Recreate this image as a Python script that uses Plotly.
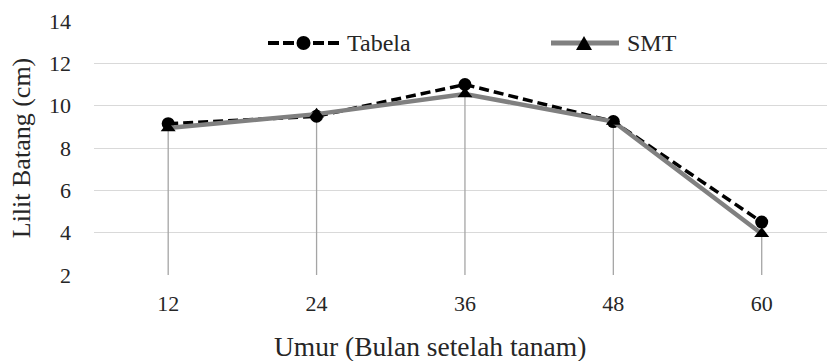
import plotly.graph_objects as go

categories = ["12", "24", "36", "48", "60"]
tabela = [9.15, 9.5, 11.0, 9.25, 4.5]
smt = [8.95, 9.6, 10.55, 9.25, 3.95]
y_ticks = [2, 4, 6, 8, 10, 12, 14]
series_names = ["Tabela", "SMT"]
x_title = "Umur (Bulan setelah tanam)"
y_title = "Lilit Batang (cm)"

FONT = "Liberation Serif"
TXT = "#262626"
DASH = "10px,5px"
GRAY = "#808080"

# drop lines from the higher point down to the axis floor
drop_x, drop_y = [], []
for c, a, b in zip(categories, tabela, smt):
    drop_x += [c, c, None]
    drop_y += [y_ticks[0], max(a, b), None]

fig = go.Figure()
fig.add_trace(go.Scatter(x=drop_x, y=drop_y, mode="lines",
                         line=dict(color="#a5a5a5", width=1.3),
                         showlegend=False, hoverinfo="skip"))
fig.add_trace(go.Scatter(x=categories, y=tabela, name=series_names[0], mode="lines+markers",
                         line=dict(color="black", width=3.5, dash=DASH),
                         marker=dict(symbol="circle", size=13, color="black")))
fig.add_trace(go.Scatter(x=categories, y=smt, name=series_names[1], mode="lines+markers",
                         line=dict(color=GRAY, width=4.5),
                         marker=dict(symbol="triangle-up", size=13, color="black")))

# ---- custom legend and x title (layout only) ----
L, W = 94, 733          # plot area left and width in px
TOP, H = 21, 254        # plot area top and height in px
def px(p):
    return (p - L) / W
def py(p):
    return (TOP + H - p) / H
LY = py(43)             # legend row centre

# Tabela
fig.add_shape(type="line", xref="paper", yref="paper", x0=px(268), x1=px(339), y0=LY, y1=LY,
              line=dict(color="black", width=4, dash="11px,4px"))
fig.add_shape(type="circle", xref="paper", yref="paper", xsizemode="pixel", ysizemode="pixel",
              xanchor=px(303.5), yanchor=LY, x0=-7, x1=7, y0=-7, y1=7,
              fillcolor="black", line=dict(width=0))
fig.add_annotation(x=px(345), y=LY, xref="paper", yref="paper", text=series_names[0],
                   showarrow=False, xanchor="left", yanchor="middle",
                   font=dict(family=FONT, size=24, color=TXT))
# SMT
fig.add_shape(type="line", xref="paper", yref="paper", x0=px(551), x1=px(619), y0=LY, y1=LY,
              line=dict(color=GRAY, width=5))
fig.add_shape(type="path", xref="paper", yref="paper", xsizemode="pixel", ysizemode="pixel",
              xanchor=px(584), yanchor=LY, path="M -8,-7 L 8,-7 L 0,7 Z",
              fillcolor="black", line=dict(width=0))
fig.add_annotation(x=px(625), y=LY, xref="paper", yref="paper", text=series_names[1],
                   showarrow=False, xanchor="left", yanchor="middle",
                   font=dict(family=FONT, size=24, color=TXT))
# x axis title
fig.add_annotation(x=px(429.5), y=py(346), xref="paper", yref="paper", text=x_title,
                   showarrow=False, xanchor="center", yanchor="middle",
                   font=dict(family=FONT, size=27.5, color=TXT))

fig.update_layout(
    width=827, height=361,
    margin=dict(l=94, r=0, t=21, b=86),
    paper_bgcolor="white", plot_bgcolor="white",
    font=dict(family=FONT, size=22, color=TXT),
    showlegend=False,
    xaxis=dict(type="category", categoryorder="array", categoryarray=categories,
               range=[-0.5, 4.44], showgrid=False, zeroline=False, showline=False,
               ticks="", ticklabelstandoff=13, tickfont=dict(family=FONT, size=22, color=TXT)),
    yaxis=dict(range=[2, 14], tickvals=y_ticks, showgrid=True, gridcolor="#d9d9d9",
               gridwidth=1.3, zeroline=False, showline=False, ticks="",
               ticklabelstandoff=22, tickfont=dict(family=FONT, size=22, color=TXT),
               title=dict(text=y_title, standoff=10,
                          font=dict(family=FONT, size=26, color=TXT))),
)

fig.write_html("out.html")
